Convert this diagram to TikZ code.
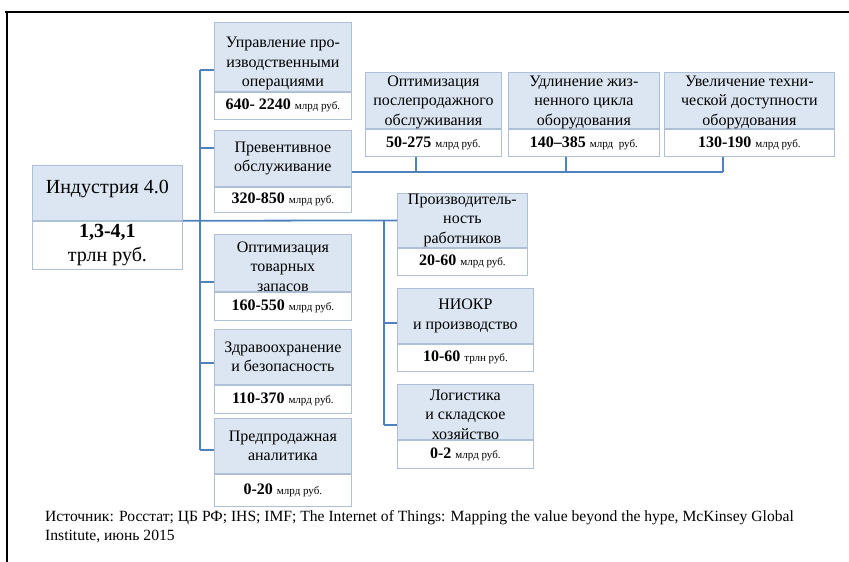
\documentclass[tikz,border=0pt]{standalone}
\usepackage{fontspec}
\setmainfont{Liberation Serif}
\usetikzlibrary{positioning}
\definecolor{HdrFill}{RGB}{220,230,242}
\definecolor{BoxEdge}{RGB}{175,192,214}
\definecolor{LinkBlue}{RGB}{79,129,189}
\newcommand\bigtxt{\fontsize{20}{24}\selectfont}
\newcommand\boxtxt{\fontsize{16}{19.5}\selectfont}
\newcommand\unittxt{\fontsize{11}{13}\selectfont}
\newcommand\srctxt{\fontsize{15.6}{19}\selectfont}
\newcommand\sumval[2]{\textbf{#1} {\unittxt #2}}

\begin{document}
\begin{tikzpicture}[x=1pt,y=-1pt,
    hdr/.style={draw=BoxEdge,fill=HdrFill,line width=0.8pt,font=\boxtxt,
                align=center,inner sep=0pt,anchor=north west},
    val/.style={draw=BoxEdge,fill=white,line width=0.8pt,font=\boxtxt,
                align=center,inner sep=0pt},
    link/.style={LinkBlue,line width=1.8pt}
  ]
  \useasboundingbox (0,0) rectangle (849,562);
  % page frame
  \draw[line width=1.4pt] (5,12) -- (849,12);
  \draw[line width=1.4pt] (7,12) -- (7,562);

  % connectors first, boxes on top
  \coordinate (lbtop) at (200,70);
  \coordinate (lbbot) at (200,450);
  \coordinate (rbtop) at (384,220);
  \coordinate (rbbot) at (384,425);
  \coordinate (rb-rnd) at (384,323);
  \coordinate (tb-after) at (416,172);
  \coordinate (tb-life) at (566,172);
  \coordinate (tb-avail) at (723,172);

  % main node
  \node[hdr,minimum width=150pt,minimum height=55pt,font=\bigtxt] (ind) at (32,165) {\rule[-12pt]{0pt}{12pt}Индустрия 4.0};
  \node[val,minimum width=150pt,minimum height=48pt,font=\bigtxt,below=0pt of ind] (ind-v) {\textbf{1,3-4,1}\\трлн руб.};

  % left column
  \node[hdr,minimum width=137pt,minimum height=69pt] (mgmt) at (214,22) {\rule{0pt}{24pt}Управление про-\\изводственными\\операциями};
  \node[val,minimum width=137pt,minimum height=27pt,below=0pt of mgmt] (mgmt-v) {\sumval{640- 2240}{млрд руб.}};
  \node[hdr,minimum width=137pt,minimum height=56pt] (prev) at (214,130) {Превентивное\\обслуживание};
  \node[val,minimum width=137pt,minimum height=25pt,below=0pt of prev] (prev-v) {\sumval{320-850}{млрд руб.}};
  \node[hdr,minimum width=137pt,minimum height=54pt] (stock) at (214,234) {\rule{0pt}{18pt}Оптимизация\\товарных\\запасов};
  \node[val,minimum width=137pt,minimum height=28pt,below=0pt of stock] (stock-v) {\sumval{160-550}{млрд руб.}};
  \node[hdr,minimum width=137pt,minimum height=55pt] (health) at (214,329) {Здравоохранение\\и безопасность};
  \node[val,minimum width=137pt,minimum height=28pt,below=0pt of health] (health-v) {\sumval{110-370}{млрд руб.}};
  \node[hdr,minimum width=137pt,minimum height=55pt] (presale) at (214,418) {Предпродажная\\аналитика};
  \node[val,minimum width=137pt,minimum height=32pt,below=0pt of presale] (presale-v) {\sumval{0-20}{млрд руб.}};

  % right column
  \node[hdr,minimum width=130pt,minimum height=54pt] (labor) at (397,193) {Производитель-\\ность\\работников};
  \node[val,minimum width=130pt,minimum height=27pt,below=0pt of labor] (labor-v) {\sumval{20-60}{млрд руб.}};
  \node[hdr,minimum width=136pt,minimum height=55pt] (rnd) at (397,288) {НИОКР\\и производство};
  \node[val,minimum width=136pt,minimum height=27pt,below=0pt of rnd] (rnd-v) {\sumval{10-60}{трлн руб.}};
  \node[hdr,minimum width=136pt,minimum height=44pt] (logis) at (397,384) {\rule{0pt}{16pt}Логистика\\и складское\\хозяйство};
  \node[val,minimum width=136pt,minimum height=28pt,below=0pt of logis] (logis-v) {\sumval{0-2}{млрд руб.}};

  % top row
  \node[hdr,minimum width=136pt,minimum height=51pt] (after) at (365,72) {\rule{0pt}{14pt}Оптимизация\\послепродажного\\обслуживания};
  \node[val,minimum width=136pt,minimum height=27pt,below=0pt of after] (after-v) {\sumval{50-275}{млрд руб.}};
  \node[hdr,minimum width=151pt,minimum height=51pt] (life) at (508,72) {\rule{0pt}{14pt}Удлинение жиз-\\ненного цикла\\оборудования};
  \node[val,minimum width=151pt,minimum height=27pt,below=0pt of life] (life-v) {\sumval{140–385}{млрд\ \ руб.}};
  \node[hdr,minimum width=170pt,minimum height=51pt] (avail) at (664,72) {\rule{0pt}{14pt}Увеличение техни-\\ческой доступности\\оборудования};
  \node[val,minimum width=170pt,minimum height=27pt,below=0pt of avail] (avail-v) {\sumval{130-190}{млрд руб.}};

  % links
  \draw[link] (ind.south east) -- (labor.west);
  \draw[link] (lbtop) -- (lbbot);
  \draw[link] (lbtop) -- (lbtop -| mgmt.west);
  \foreach \y/\n in {148/prev,282/stock,363/health,450/presale}{
    \coordinate (lb-\n) at (200,\y);
    \draw[link] (lb-\n) -- (lb-\n -| \n.west);
  }
  \draw[link] (rbtop) -- (rbbot);
  \draw[link] (rb-rnd) -- (rb-rnd -| rnd.west);
  \draw[link] (rbbot) -- (rbbot -| logis.west);
  \draw[link] (tb-avail -| prev.east) -- (tb-avail);
  \foreach \n in {after,life,avail}
    \draw[link] (tb-\n) -- (tb-\n |- \n-v.south);

  % source
  \node[anchor=north west,font=\srctxt,align=left,inner sep=0pt] (src) at (45,510)
    {Источник: Росстат; ЦБ РФ; IHS; IMF; The Internet of Things: Mapping the value beyond the hype, McKinsey Global\\Institute, июнь 2015};
\end{tikzpicture}
\end{document}
